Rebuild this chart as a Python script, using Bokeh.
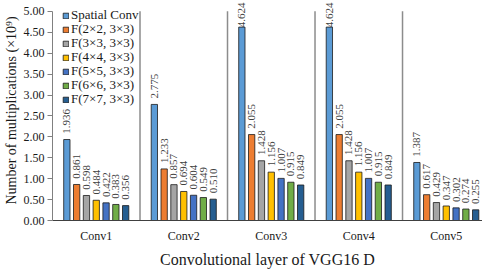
import numpy as np
from bokeh.plotting import figure
from bokeh.models import Range1d, FixedTicker, Legend, LegendItem, ColumnDataSource
from bokeh.core.properties import value
from bokeh.embed import file_html
from bokeh.resources import INLINE

layers = ["Conv1", "Conv2", "Conv3", "Conv4", "Conv5"]
series_names = ["Spatial Conv", "F(2×2, 3×3)", "F(3×3, 3×3)", "F(4×4, 3×3)",
                "F(5×5, 3×3)", "F(6×6, 3×3)", "F(7×7, 3×3)"]
spatial = [1.936, 2.775, 4.624, 4.624, 1.387]
f2 = [0.861, 1.233, 2.055, 2.055, 0.617]
f3 = [0.598, 0.857, 1.428, 1.428, 0.429]
f4 = [0.484, 0.694, 1.156, 1.156, 0.347]
f5 = [0.422, 0.604, 1.007, 1.007, 0.302]
f6 = [0.383, 0.549, 0.915, 0.915, 0.274]
f7 = [0.356, 0.510, 0.849, 0.849, 0.255]
y_ticks = [0.0, 0.5, 1.0, 1.5, 2.0, 2.5, 3.0, 3.5, 4.0, 4.5, 5.0]

all_series = [spatial, f2, f3, f4, f5, f6, f7]
colors = ["#5B9BD5", "#ED7D31", "#A5A5A5", "#FFC000", "#4472C4", "#70AD47", "#255E91"]

FONT = "Liberation Serif"
n_cat = len(layers)
pitch = 0.112
bar_w = 0.072
FRAME_H = 222
LEG_TOP = 17      # screen px of first legend row centre
LEG_STEP = 14     # screen px between legend rows

p = figure(width=482, height=270, output_backend="svg", toolbar_location=None,
           x_range=Range1d(0, 4.914), y_range=Range1d(0, 5.26),
           min_border_left=52, min_border_right=0, min_border_top=0, min_border_bottom=48)
p.outline_line_color = None
p.xgrid.visible = False
p.ygrid.visible = False

# separators between categories
p.segment(x0=list(range(1, n_cat)), y0=[0] * (n_cat - 1),
          x1=list(range(1, n_cat)), y1=[5.0] * (n_cat - 1),
          line_color="#8C8C8C", line_width=1.5)

cx = np.arange(n_cat) + 0.5
for i, (name, vals, col) in enumerate(zip(series_names, all_series, colors)):
    xs = cx + (i - 3) * pitch
    v = np.array(vals)
    src = ColumnDataSource(dict(x=xs, top=v, ly=np.minimum(v + 0.14, 4.62),
                                lab=[f"{t:.3f}" for t in vals]))
    r = p.vbar(x="x", top="top", width=bar_w, source=src, fill_color=col,
               line_color="#1a1a1a", line_width=0.8)
    p.text(x="x", y="ly", text="lab", source=src, angle=np.pi / 2,
           text_align="left", text_baseline="middle",
           text_font=value(FONT), text_font_size="11px", text_color="#404040")
    ybot = int(round(FRAME_H - (LEG_TOP + i * LEG_STEP) - 8))
    leg = Legend(items=[LegendItem(label=name, renderers=[r])],
                 location=(10, ybot), padding=0, margin=0,
                 spacing=0, label_height=13, glyph_height=7, glyph_width=7,
                 label_standoff=2, label_text_font=FONT, label_text_font_size="13px",
                 label_text_color="#1a1a1a", background_fill_alpha=0,
                 border_line_alpha=0)
    p.add_layout(leg)

# x axis
p.xaxis.ticker = FixedTicker(ticks=list(cx))
p.xaxis.major_label_overrides = {float(c): l for c, l in zip(cx, layers)}
p.xaxis.major_tick_line_color = None
p.xaxis.major_tick_out = 0
p.xaxis.major_tick_in = 0
p.xaxis.minor_tick_line_color = None
p.xaxis.axis_line_color = "#404040"
p.xaxis.major_label_text_font = FONT
p.xaxis.major_label_text_font_size = "12px"
p.xaxis.major_label_text_color = "#1a1a1a"
p.xaxis.major_label_standoff = 8
p.xaxis.axis_label = "Convolutional layer of VGG16 D"
p.xaxis.axis_label_text_font = FONT
p.xaxis.axis_label_text_font_style = "normal"
p.xaxis.axis_label_text_font_size = "16px"
p.xaxis.axis_label_text_color = "#1a1a1a"
p.xaxis.axis_label_standoff = 5

# y axis
p.yaxis.ticker = FixedTicker(ticks=y_ticks)
p.yaxis.major_label_overrides = {t: f"{t:.2f}" for t in y_ticks}
p.yaxis.bounds = (0, 5)
p.yaxis.minor_tick_line_color = None
p.yaxis.major_tick_in = 0
p.yaxis.major_tick_out = 5
p.yaxis.major_tick_line_color = "#808080"
p.yaxis.axis_line_color = "#808080"
p.yaxis.major_label_text_font = FONT
p.yaxis.major_label_text_font_size = "12px"
p.yaxis.major_label_text_color = "#1a1a1a"
p.yaxis.major_label_standoff = 3
p.yaxis.axis_label = "Number of multiplications (×10⁹)"
p.yaxis.axis_label_text_font = FONT
p.yaxis.axis_label_text_font_style = "normal"
p.yaxis.axis_label_text_font_size = "14px"
p.yaxis.axis_label_text_color = "#1a1a1a"
p.yaxis.axis_label_standoff = 2

open("out.html", "w").write(file_html(p, INLINE))
